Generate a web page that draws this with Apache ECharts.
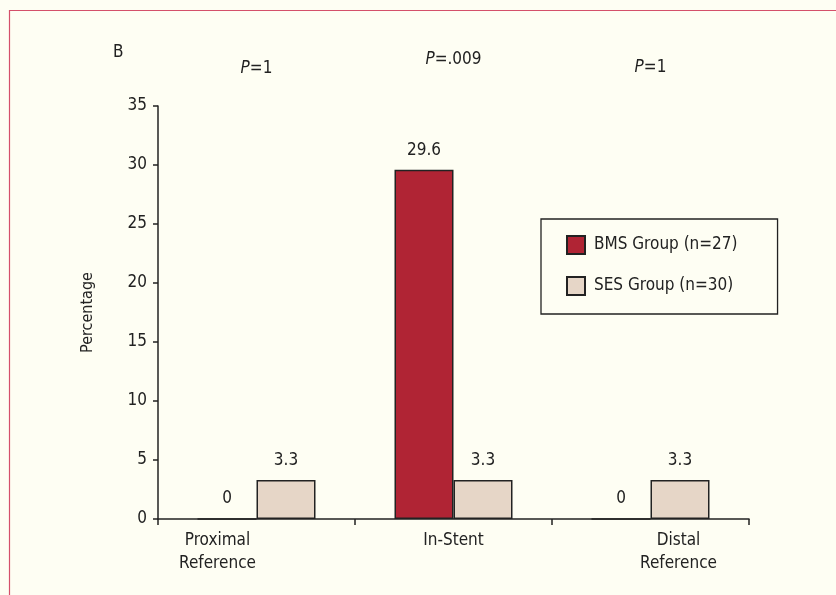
<!DOCTYPE html>
<html>
<head>
<meta charset="utf-8">
<script src="https://cdn.jsdelivr.net/npm/echarts@6/dist/echarts.min.js"></script>
<style>
  html, body { margin: 0; padding: 0; background: #FEFEF3; }
  #chart { width: 836px; height: 595px; }
</style>
</head>
<body>
<div id="chart"></div>
<script>
// Restenosis by segment, percentage of lesions per stent group
const categories = ['Proximal\nReference', 'In-Stent', 'Distal\nReference'];
const bmsValues = [0, 29.6, 0];
const sesValues = [3.3, 3.3, 3.3];
const pValues = ['1', '.009', '1'];
const yTicks = { min: 0, max: 35, step: 5 };

const FONT = '"Liberation Sans Narrow", "DejaVu Sans Condensed", "Liberation Sans", sans-serif';
const INK = '#222222';
const BMS_COLOR = '#B02434';
const SES_COLOR = '#E6D6C7';

// per-category nudges for the segment names and the P annotations
const nameNudge = [[0, 78, 0, 0], [0, 0, 0, 0], [0, 0, 0, 56]];
const pNudge = [[0, 0, 0, 0], [0, 0, 9, 0], [0, 0, 1, 0]];

const chart = echarts.init(document.getElementById('chart'), null, { renderer: 'canvas' });

const labelStyle = {
  show: true,
  position: 'top',
  distance: 11,
  color: INK,
  fontFamily: FONT,
  fontSize: 17
};

chart.setOption({
  backgroundColor: '#FEFEF3',
  textStyle: { fontFamily: FONT, color: INK },
  graphic: [
    {
      type: 'rect',
      shape: { x: 9.5, y: 10.5, width: 900, height: 700 },
      style: { fill: 'none', stroke: '#D4506A', lineWidth: 1.2 },
      silent: true
    },
    {
      type: 'text',
      left: 113,
      top: 44,
      style: { text: 'B', fill: INK, font: '17px ' + FONT }
    }
  ],
  legend: {
    orient: 'vertical',
    left: 541,
    top: 219,
    padding: [16, 40, 18, 25],
    itemGap: 21,
    itemWidth: 18,
    itemHeight: 18,
    backgroundColor: '#FEFEF3',
    borderColor: INK,
    borderWidth: 1.3,
    borderRadius: 0,
    icon: 'rect',
    textStyle: { color: INK, fontFamily: FONT, fontSize: 17, padding: [0, 0, 0, 4] },
    data: ['BMS Group (n=27)', 'SES Group (n=30)']
  },
  grid: { left: 158, right: 87, top: 106, bottom: 76, containLabel: false },
  xAxis: [
    {
      type: 'category',
      data: categories.map((c, i) => ({ value: c, textStyle: { padding: nameNudge[i] } })),
      axisLine: { show: true, lineStyle: { color: INK, width: 1.5 } },
      axisTick: { show: true, length: 6, lineStyle: { color: INK, width: 1.5 } },
      axisLabel: { color: INK, fontFamily: FONT, fontSize: 17, margin: 10, lineHeight: 23 }
    },
    {
      type: 'category',
      position: 'top',
      data: categories.map((c, i) => ({ value: c, textStyle: { padding: pNudge[i] } })),
      axisLine: { show: false },
      axisTick: { show: false },
      axisLabel: {
        margin: 29,
        formatter: (v, i) => '{p|P}{n|=' + pValues[i] + '}',
        rich: {
          p: { fontFamily: FONT, fontSize: 17, fontStyle: 'italic', color: INK },
          n: { fontFamily: FONT, fontSize: 17, color: INK }
        }
      }
    }
  ],
  yAxis: {
    type: 'value',
    min: yTicks.min,
    max: yTicks.max,
    interval: yTicks.step,
    name: 'Percentage',
    nameLocation: 'middle',
    nameGap: 62,
    nameTextStyle: { color: INK, fontFamily: FONT, fontSize: 16 },
    axisLine: { show: true, lineStyle: { color: INK, width: 1.5 } },
    axisTick: { show: true, length: 5, lineStyle: { color: INK, width: 1.5 } },
    axisLabel: { color: INK, fontFamily: FONT, fontSize: 17, margin: 11 },
    splitLine: { show: false }
  },
  series: [
    {
      name: 'BMS Group (n=27)',
      type: 'bar',
      data: bmsValues,
      barWidth: 59,
      barGap: '0%',
      itemStyle: { color: BMS_COLOR, borderColor: INK, borderWidth: 1.5 },
      label: labelStyle
    },
    {
      name: 'SES Group (n=30)',
      type: 'bar',
      data: sesValues,
      barWidth: 59,
      barGap: '0%',
      itemStyle: { color: SES_COLOR, borderColor: INK, borderWidth: 1.5 },
      label: labelStyle
    }
  ]
});
</script>
</body>
</html>
